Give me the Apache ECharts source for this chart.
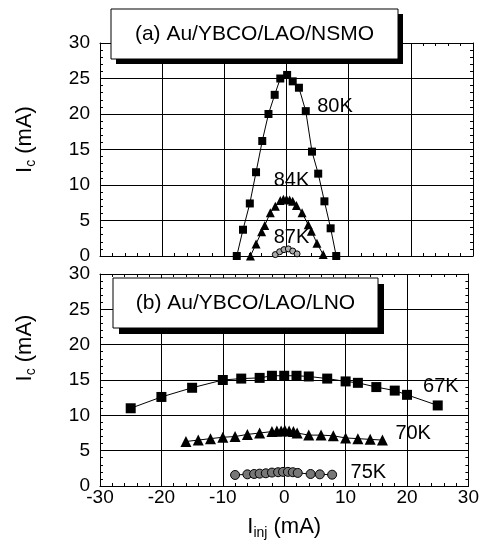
<!DOCTYPE html>
<html>
<head>
<meta charset="utf-8">
<script src="https://cdn.jsdelivr.net/npm/echarts@6/dist/echarts.min.js"></script>
<style>html,body{margin:0;padding:0;background:#fff}#c{width:482px;height:552px}</style>
</head>
<body>
<div id="c"></div>
<script>
// Panel (a) Au/YBCO/LAO/NSMO
const a80x = [-8,-7,-5.9,-4.9,-3.9,-2.9,-1.9,-1,0.1,1,2,3.1,4.1,5.1,6.1,7.1,8];
const a80y = [0,3.7,7.4,11.8,16.2,20.0,22.7,25.0,25.5,24.6,23.7,20.4,14.7,11.6,7.7,3.9,0];
const a84x = [-5.8,-4.9,-4.0,-3.5,-2.6,-1.8,-1.0,-0.5,0,0.5,1.0,1.6,2.5,3.5,4.0,4.9,5.9];
const a84y = [0,1.7,3.4,4.3,6.1,7.0,7.8,8.0,8.0,7.9,7.7,7.1,6.1,4.4,3.5,1.8,0.2];
const a87x = [-1.8,-1.1,-0.4,0.3,1.0,1.7];
const a87y = [0.2,0.6,0.9,1.0,0.7,0.3];
// Panel (b) Au/YBCO/LAO/LNO
const b67x = [-25,-20,-15,-10,-7,-4,-2,0,2,4,7,10,12,15,18,20,25];
const b67y = [11.0,12.6,13.9,15.0,15.2,15.3,15.6,15.6,15.6,15.5,15.2,14.8,14.6,14.0,13.5,12.9,11.4];
const b70x = [-16,-14,-12,-10,-8,-6,-4,-2,-1.2,-0.5,0.1,0.8,1.5,2.1,4,6,8,10,12,14,16];
const b70y = [6.3,6.5,6.7,6.9,7.0,7.3,7.5,7.7,7.8,7.8,7.9,7.8,7.7,7.5,7.2,7.2,7.1,6.8,6.7,6.6,6.5];
const b75x = [-8,-6,-4.9,-4,-3,-2,-1,-0.2,0.6,1.4,2.2,4.3,5.8,7.8];
const b75y = [1.56,1.65,1.7,1.75,1.8,1.9,1.95,2.0,2.0,1.95,1.85,1.7,1.65,1.6];
// Axis ticks
const xTicks = [-30,-20,-10,0,10,20,30];
const yTicks = [0,5,10,15,20,25,30];
// Curve labels [text, x, y, panel]
const curveLabels = [["80K",7.8,21.0,0],["84K",0.8,10.7,0],["87K",0.8,2.6,0],["67K",25.5,14.1,1],["70K",21.0,7.4,1],["75K",13.7,1.9,1]];
const panelTitles = ["(a) Au/YBCO/LAO/NSMO","(b) Au/YBCO/LAO/LNO"];

const FONT = "Liberation Sans, Arial, sans-serif";
const pts = (xs, ys) => xs.map((x, i) => [x, ys[i]]);

function xAx(gi, pos, showLabels) {
  return {
    type: 'value', gridIndex: gi, position: pos, min: xTicks[0], max: xTicks[xTicks.length-1], interval: 10,
    axisLine: {show: true, onZero: false, lineStyle: {color: '#000', width: 1}},
    axisTick: {show: true, inside: true, length: 6, lineStyle: {color: '#000'}},
    minorTick: {show: true, splitNumber: 5, length: 3, lineStyle: {color: '#000'}},
    axisLabel: {show: showLabels, color: '#000', fontSize: 19, fontFamily: FONT, margin: 2},
    splitLine: {show: pos === 'bottom', lineStyle: {color: '#000', width: 1}}
  };
}
function yAx(gi, pos, showLabels) {
  return {
    type: 'value', gridIndex: gi, position: pos, min: yTicks[0], max: yTicks[yTicks.length-1], interval: 5,
    axisLine: {show: true, onZero: false, lineStyle: {color: '#000', width: 1}},
    axisTick: {show: true, inside: true, length: 6, lineStyle: {color: '#000'}},
    minorTick: {show: true, splitNumber: 5, length: 3, lineStyle: {color: '#000'}},
    axisLabel: {show: showLabels, color: '#000', fontSize: 19, fontFamily: FONT, margin: 10},
    splitLine: {show: pos === 'left', lineStyle: {color: '#000', width: 1}}
  };
}
const xAxes = [xAx(0,'bottom',false), xAx(0,'top',false), xAx(1,'bottom',true), xAx(1,'top',false)];
const yAxes = [yAx(0,'left',true), yAx(0,'right',false), yAx(1,'left',true), yAx(1,'right',false)];
const nameRich = {
  i: {fontSize: 22, fontFamily: FONT, color: '#000'},
  s: {fontSize: 14, fontFamily: FONT, color: '#000', padding: [12,0,0,0]}
};
yAxes[0].name = '{i|I}{s|c}{i| (mA)}';
yAxes[0].nameLocation = 'middle'; yAxes[0].nameGap = 62;
yAxes[0].nameTextStyle = {rich: nameRich, padding: [0,0,0,20]};
yAxes[2].name = '{i|I}{s|c}{i| (mA)}';
yAxes[2].nameLocation = 'middle'; yAxes[2].nameGap = 62;
yAxes[2].nameTextStyle = {rich: nameRich, padding: [0,0,0,64]};
xAxes[2].name = '{i|I}{s|inj}{i| (mA)}';
xAxes[2].nameLocation = 'middle'; xAxes[2].nameGap = 28;
xAxes[2].nameTextStyle = {rich: nameRich};

function lineSeries(xi, yi, data, symbol, size, color) {
  return {
    type: 'line', xAxisIndex: xi, yAxisIndex: yi, data: data, symbol: symbol, symbolSize: size,
    showSymbol: true, lineStyle: {color: '#000', width: 1},
    itemStyle: {color: color, borderColor: '#000', borderWidth: color === '#000' ? 0 : 1},
    animation: false, z: 3
  };
}
const series = [
  lineSeries(0,0,pts(a80x,a80y),'rect',8,'#000'),
  lineSeries(0,0,pts(a84x,a84y),'triangle',9,'#000'),
  lineSeries(0,0,pts(a87x,a87y),'circle',6,'#aaa'),
  lineSeries(2,2,pts(b67x,b67y),'rect',10,'#000'),
  lineSeries(2,2,pts(b70x,b70y),'triangle',11,'#000'),
  lineSeries(2,2,pts(b75x,b75y),'circle',9,'#777')
];

const boxes = [[111,9,287,50,5], [113,278,265,50,6]];
const graphic = [];
boxes.forEach((b, i) => {
  graphic.push({type: 'rect', z: 100, shape: {x: b[0]+b[4], y: b[1]+b[4], width: b[2], height: b[3]}, style: {fill: '#000'}});
  graphic.push({type: 'rect', z: 101, shape: {x: b[0], y: b[1], width: b[2], height: b[3]}, style: {fill: '#fff', stroke: '#000', lineWidth: 1}});
  graphic.push({type: 'text', z: 102, x: b[0] + b[2]/2, y: b[1] + b[3]/2, style: {text: panelTitles[i], fill: '#000', font: '21px ' + FONT, align: 'center', verticalAlign: 'middle'}});
});

const chart = echarts.init(document.getElementById('c'), null, {renderer: 'canvas'});
chart.setOption({
  backgroundColor: '#fff',
  animation: false,
  grid: [
    {left: 100, top: 43, width: 373, height: 213},
    {left: 100, top: 274, width: 373, height: 212}
  ],
  xAxis: xAxes, yAxis: yAxes, series: series, graphic: graphic
});
// curve labels placed through the axes' own scales
curveLabels.forEach(l => {
  const p = chart.convertToPixel({xAxisIndex: l[3]*2, yAxisIndex: l[3]*2}, [l[1], l[2]]);
  graphic.push({type: 'text', z: 50, x: p[0], y: p[1], style: {text: l[0], fill: '#000', font: '20px ' + FONT, align: 'center', verticalAlign: 'middle'}});
});
chart.setOption({graphic: graphic});
</script>
</body>
</html>
